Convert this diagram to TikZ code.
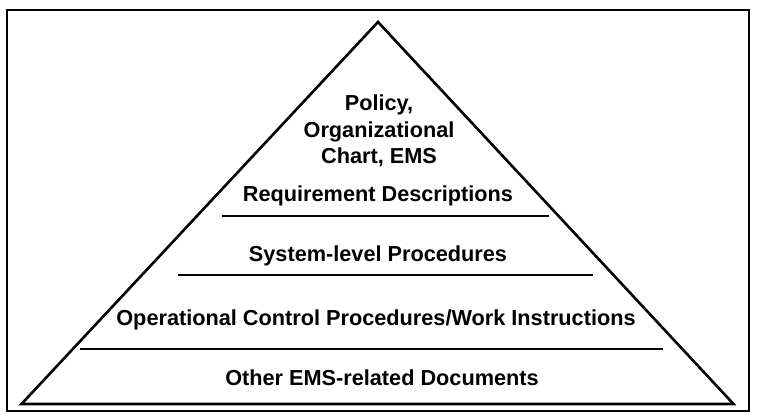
\documentclass[tikz,border=0pt]{standalone}
\usepackage{fontspec}
\setmainfont{Liberation Sans}
\begin{document}
\begin{tikzpicture}[x=1pt,y=-1pt,
  lbl/.style={font=\bfseries\fontsize{21.7}{26}\selectfont, inner sep=0pt, anchor=base},
  frameline/.style={line width=2.6pt},
  tri/.style={line width=2.6pt, line join=miter},
  sep/.style={line width=2pt}]
\useasboundingbox (0,0) rectangle (757,417);
\draw[frameline] (7,10) rectangle (749,411);
% pyramid
\coordinate (apex) at (378,22);
\coordinate (bl) at (21.5,404);
\coordinate (br) at (733.5,404);
\draw[tri] (bl) -- (apex) -- (br) -- cycle;
% separators
\coordinate (l1a) at (222,216); \coordinate (l1b) at (549,216);
\coordinate (l2a) at (178,275); \coordinate (l2b) at (593,275);
\coordinate (l3a) at (80,349);  \coordinate (l3b) at (663,349);
\draw[sep] (l1a) -- (l1b);
\draw[sep] (l2a) -- (l2b);
\draw[sep] (l3a) -- (l3b);
% labels
\node[lbl] (t1) at (379,111) {Policy,};
\node[lbl] (t2) at (379,137) {Organizational};
\node[lbl] (t3) at (379,163) {Chart, EMS};
\node[lbl] (t4) at (378,201) {Requirement Descriptions};
\node[lbl] (t5) at (378,261) {System-level Procedures};
\node[lbl] (t6) at (376,325) {Operational Control Procedures/Work Instructions};
\node[lbl] (t7) at (382,385) {Other EMS-related Documents};
\end{tikzpicture}
\end{document}
